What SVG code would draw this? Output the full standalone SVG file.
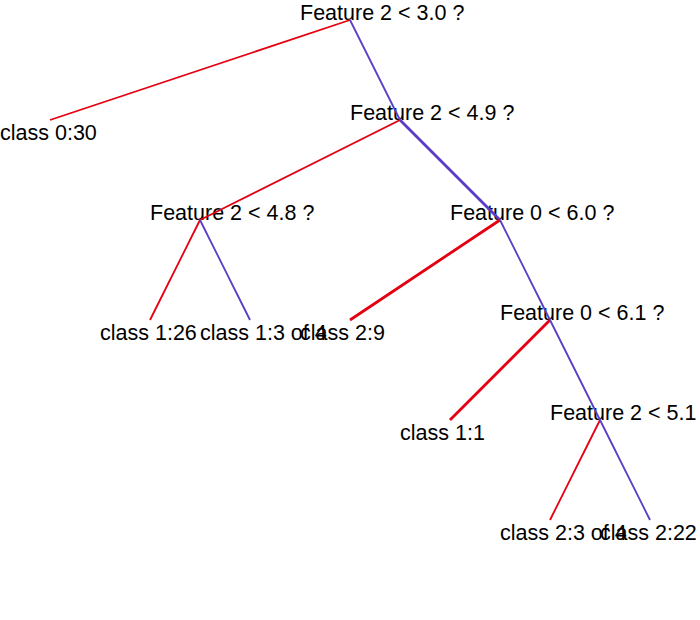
<svg xmlns="http://www.w3.org/2000/svg" width="700" height="620" viewBox="0 0 700 620">
  <style>
    text { font-family: "Liberation Sans", Arial, sans-serif; font-size: 21.5px; fill: #000; }
    .yes { stroke: #e40010; stroke-width: 1.8; fill: none; }
    .no { stroke: #5a3cc8; stroke-width: 1.8; fill: none; }
    .bold { stroke-width: 2.8; }
  </style>
  <rect width="700" height="620" fill="#fff"/>

  <!-- decision nodes: label baseline sits on the split point -->
  <g id="n0"><text x="300" y="20">Feature 2 &lt; 3.0 ?</text></g>
  <g id="n1"><text x="350" y="120">Feature 2 &lt; 4.9 ?</text></g>
  <g id="n2"><text x="150" y="220">Feature 2 &lt; 4.8 ?</text></g>
  <g id="n3"><text x="450" y="220">Feature 0 &lt; 6.0 ?</text></g>
  <g id="n4"><text x="500" y="320">Feature 0 &lt; 6.1 ?</text></g>
  <g id="n5"><text x="550" y="420">Feature 2 &lt; 5.1 ?</text></g>

  <!-- leaves: label hangs below the end point -->
  <g id="leaf0"><text x="0" y="140">class 0:30</text></g>
  <g id="leaf1"><text x="100" y="340">class 1:26</text></g>
  <g id="leaf2"><text x="200" y="340">class 1:3 of 4</text></g>
  <g id="leaf3"><text x="300" y="340">class 2:9</text></g>
  <g id="leaf4"><text x="400" y="440">class 1:1</text></g>
  <g id="leaf5"><text x="500" y="540">class 2:3 of 4</text></g>
  <g id="leaf6"><text x="600" y="540">class 2:22</text></g>

  <!-- branches: red = condition true (left), blue = false (right) -->
  <g id="edges">
    <line class="yes" x1="350" y1="20" x2="50" y2="120"/>
    <line class="no" x1="350" y1="20" x2="400" y2="120"/>
    <line class="yes" x1="400" y1="120" x2="200" y2="220"/>
    <line class="no bold" x1="400" y1="120" x2="500" y2="220"/>
    <line class="yes" x1="200" y1="220" x2="150" y2="320"/>
    <line class="no" x1="200" y1="220" x2="250" y2="320"/>
    <line class="yes bold" x1="500" y1="220" x2="350" y2="320"/>
    <line class="no" x1="500" y1="220" x2="550" y2="320"/>
    <line class="yes bold" x1="550" y1="320" x2="450" y2="420"/>
    <line class="no" x1="550" y1="320" x2="600" y2="420"/>
    <line class="yes" x1="600" y1="420" x2="550" y2="520"/>
    <line class="no" x1="600" y1="420" x2="650" y2="520"/>
  </g>
</svg>
